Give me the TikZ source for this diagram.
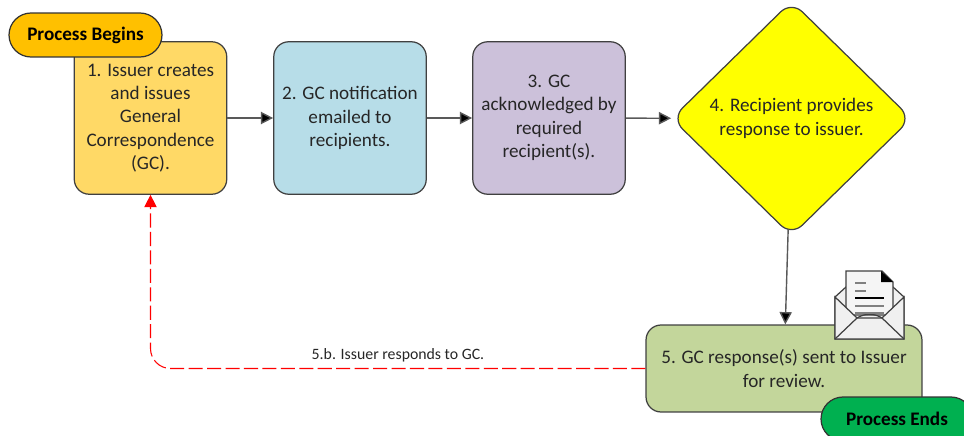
\documentclass[tikz,border=0pt]{standalone}
\usepackage{fontspec}
\setmainfont{Carlito}
\usetikzlibrary{arrows.meta,shapes.geometric}
\definecolor{issuefill}{RGB}{255,217,102}
\definecolor{notifyfill}{RGB}{183,221,232}
\definecolor{ackfill}{RGB}{204,193,218}
\definecolor{recipientfill}{RGB}{255,255,0}
\definecolor{responsefill}{RGB}{195,214,155}
\definecolor{beginsfill}{RGB}{255,192,0}
\definecolor{endsfill}{RGB}{0,176,80}
\definecolor{backred}{RGB}{255,0,0}
\tikzset{
  boxstep/.style={draw=black!75,line width=.7pt,rounded corners=.3cm,minimum width=3.05cm,minimum height=3.05cm,
    inner sep=0pt,align=center,text=black!85,font=\fontsize{10.9}{13.3}\selectfont},
  pill/.style={draw=black!80,line width=.7pt,rounded corners=.44cm,minimum height=.88cm,inner sep=0pt,
    font=\fontsize{10.9}{13}\selectfont\bfseries},
  flow/.style={draw=black!65,line width=.8pt,-{Triangle[length=7pt,width=7pt,fill=black]}},
  back/.style={draw=backred,line width=.6pt,dash pattern=on 8pt off 2.5pt,rounded corners=.4cm,
    -{Triangle[length=7pt,width=7pt,fill=backred]}}
}
\begin{document}
\begin{tikzpicture}[x=.02cm,y=-.02cm]
   \useasboundingbox (0,0) rectangle (964,436);
   \clip (0,0) rectangle (964,436);

   \node[boxstep,fill=issuefill] (issue) at (150.5,118)
   {1. Issuer creates\\and issues\\General\\Correspondence\\(GC).};
   \node[boxstep,fill=notifyfill] (notify) at (350,118)
   {2. GC notification\\emailed to\\recipients.};
   \node[boxstep,fill=ackfill] (ack) at (549,118)
   {3. GC\\acknowledged by\\required\\recipient(s).};
   \node[diamond,draw=black!75,line width=.7pt,rounded corners=.3cm,fill=recipientfill,inner sep=0pt,aspect=1,
   minimum width=4.8cm,minimum height=4.7cm,align=center,text=black!85,font=\fontsize{10.9}{13.3}\selectfont]
   (recipient) at (791.5,118.5) {4. Recipient provides\\response to issuer.};
   \node[boxstep,fill=responsefill,minimum width=5.52cm,minimum height=1.74cm]
   (response) at (784,368.5) {5. GC response(s) sent to Issuer\\for review.};

   \node[pill,fill=beginsfill,minimum width=3.06cm] (begins) at (85.5,35) {Process Begins};
   \node[pill,fill=endsfill,minimum width=3.04cm] (ends) at (897,419) {Process Ends};

   \draw[flow] (issue) -- (notify);
   \draw[flow] (notify) -- (ack);
   \draw[flow] (ack) -- (recipient);
   \draw[flow,shorten <=-.08cm] (recipient) -- (response);
   \draw[back] (response) -| node[pos=.25,above=0pt,text=black!85,font=\fontsize{9}{11}\selectfont] {5.b. Issuer responds to GC.} (issue);

   % envelope
   \begin{scope}[draw=black!75,line width=.7pt,fill=black!6]
   \filldraw (835,297) -- (846,287) -- (893,287) -- (904,297) -- (904,339) -- (835,339) -- cycle;
   \filldraw[fill=black!4] (846,315) -- (846,271) -- (882,271) -- (893,282) -- (893,315) -- cycle;
   \fill[black] (881,271) -- (893,282) -- (881,282) -- cycle;
   \filldraw (835,297) -- (857,318) -- (882,318) -- (904,297) -- (904,339) -- (835,339) -- cycle;
   \draw (835,339) -- (857,318) .. controls (865,313) and (874,313) .. (882,318) -- (904,339);
   \end{scope}
   \draw[black!50,line width=.8pt] (855,283) -- (866,283) (855,291) -- (866,291) (855,306) -- (884,306) (855,313) -- (884,313);
   \draw[black,line width=.7pt] (855,298) -- (884,298);

 \end{tikzpicture}
\end{document}
